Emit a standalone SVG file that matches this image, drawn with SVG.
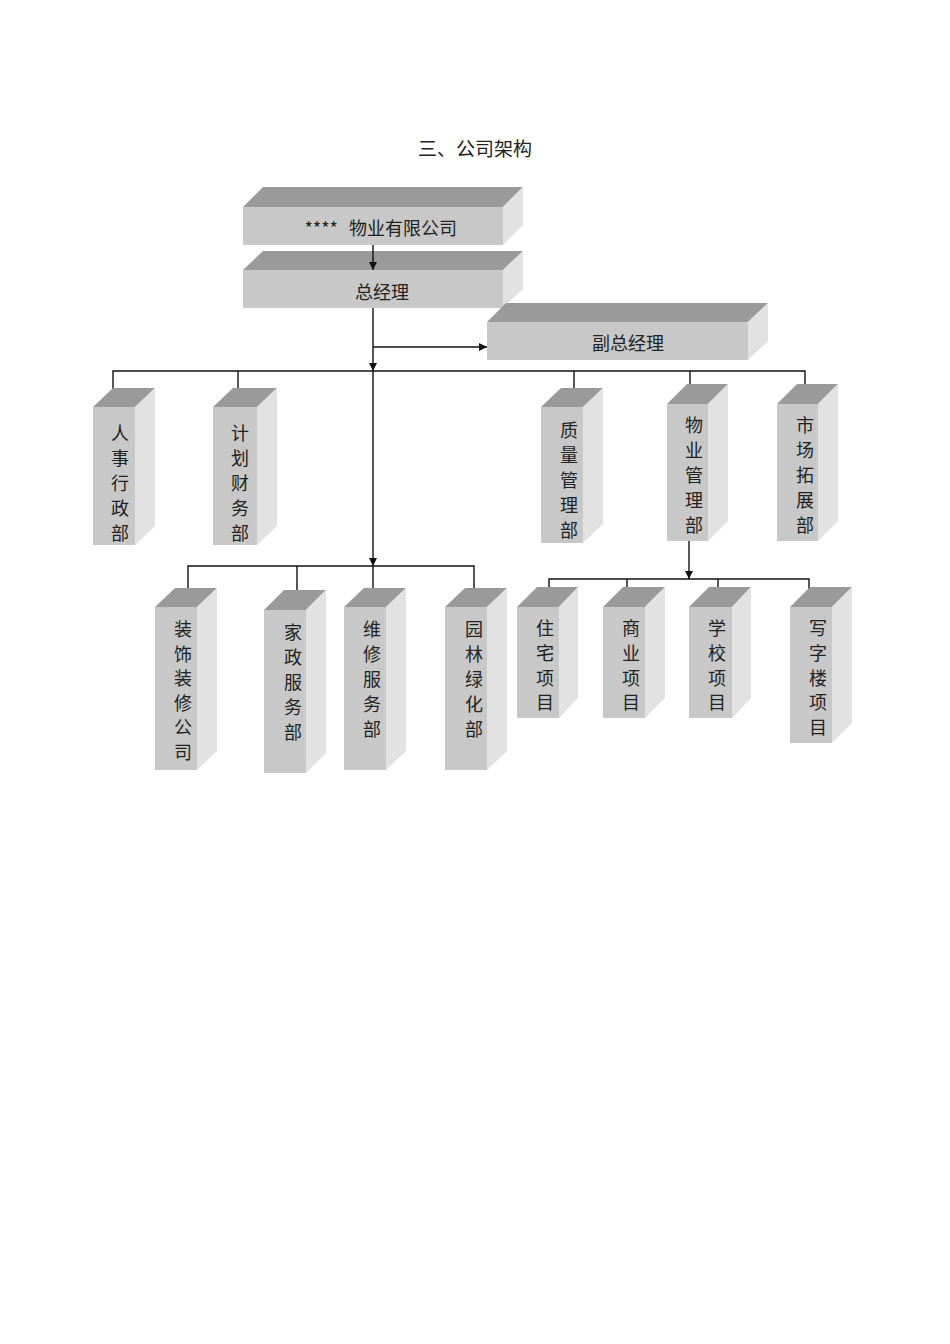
<svg xmlns="http://www.w3.org/2000/svg" width="950" height="1344" viewBox="0 0 950 1344">
<style>
.top{fill:#9a9a9a}
.front{fill:#c8c8c8}
.side{fill:#e2e2e2}
.t{font-family:"Noto Sans CJK SC","Noto Sans CJK JP",sans-serif;fill:#222;text-anchor:middle;dominant-baseline:central}
.h{font-size:18px}
.v{font-size:18px}
.ln{stroke:#111;stroke-width:1.4;fill:none}
</style>
<defs>
<marker id="arr" viewBox="0 0 10 10" refX="10" refY="5" markerWidth="8" markerHeight="8" markerUnits="userSpaceOnUse" orient="auto">
<path d="M0,0 L10,5 L0,10 z" fill="#111"/>
</marker>
</defs>
<rect width="950" height="1344" fill="#fff"/>
<text class="t" x="475" y="147" style="font-size:19px">三、公司架构</text>

<g id="company">
<polygon class="top" points="243,207 263,187 523,187 503,207"/>
<polygon class="side" points="503,207 523,187 523,225 503,245"/>
<rect class="front" x="243" y="207" width="260" height="38"/>
<text class="t h" x="338" y="227" style="text-anchor:end">****</text>
<text class="t h" x="349" y="227" style="text-anchor:start">物业有限公司</text>
</g>
<g id="gm">
<polygon class="top" points="243,270 263,251 523,251 503,270"/>
<polygon class="side" points="503,270 523,251 523,289 503,308"/>
<rect class="front" x="243" y="270" width="260" height="38"/>
<text class="t h" x="382" y="291">总经理</text>
</g>
<g id="vgm">
<polygon class="top" points="487,322 506,303 768,303 748,322"/>
<polygon class="side" points="748,322 768,303 768,341 748,360"/>
<rect class="front" x="487" y="322" width="261" height="38"/>
<text class="t h" x="628" y="342">副总经理</text>
</g>

<g id="connectors">
<line class="ln" x1="373" y1="245" x2="373" y2="270" marker-end="url(#arr)"/>
<line class="ln" x1="373" y1="308" x2="373" y2="371" marker-end="url(#arr)"/>
<line class="ln" x1="373" y1="347" x2="487" y2="347" marker-end="url(#arr)"/>
<line class="ln" x1="373" y1="371" x2="373" y2="566" marker-end="url(#arr)"/>
<polyline class="ln" points="113,407 113,371 805,371 805,404"/>
<line class="ln" x1="238" y1="371" x2="238" y2="407"/>
<line class="ln" x1="574" y1="371" x2="574" y2="407"/>
<line class="ln" x1="690" y1="371" x2="690" y2="404"/>
<line class="ln" x1="689" y1="540" x2="689" y2="579" marker-end="url(#arr)"/>
<polyline class="ln" points="188,607 188,566 474,566 474,607"/>
<line class="ln" x1="297" y1="566" x2="297" y2="610"/>
<line class="ln" x1="373" y1="566" x2="373" y2="607"/>
<polyline class="ln" points="549,607 549,579 809,579 809,607"/>
<line class="ln" x1="627" y1="579" x2="627" y2="607"/>
<line class="ln" x1="718" y1="579" x2="718" y2="607"/>
</g>

<g id="hr">
<polygon class="top" points="93,407 113,388 155,388 135,407"/>
<polygon class="side" points="135,407 155,388 155,526 135,545"/>
<rect class="front" x="93" y="407" width="42" height="138"/>
<text class="t v" x="120"><tspan x="120" y="432">人</tspan><tspan x="120" y="457">事</tspan><tspan x="120" y="482">行</tspan><tspan x="120" y="507">政</tspan><tspan x="120" y="532">部</tspan></text>
</g>
<g id="finance">
<polygon class="top" points="213,407 233,388 277,388 257,407"/>
<polygon class="side" points="257,407 277,388 277,526 257,545"/>
<rect class="front" x="213" y="407" width="44" height="138"/>
<text class="t v" x="240"><tspan x="240" y="432">计</tspan><tspan x="240" y="457">划</tspan><tspan x="240" y="482">财</tspan><tspan x="240" y="507">务</tspan><tspan x="240" y="532">部</tspan></text>
</g>
<g id="quality">
<polygon class="top" points="541,407 561,388 603,388 583,407"/>
<polygon class="side" points="583,407 603,388 603,524 583,543"/>
<rect class="front" x="541" y="407" width="42" height="136"/>
<text class="t v" x="569"><tspan x="569" y="429">质</tspan><tspan x="569" y="454">量</tspan><tspan x="569" y="479">管</tspan><tspan x="569" y="504">理</tspan><tspan x="569" y="529">部</tspan></text>
</g>
<g id="property">
<polygon class="top" points="667,404 687,384 728,384 708,404"/>
<polygon class="side" points="708,404 728,384 728,521 708,541"/>
<rect class="front" x="667" y="404" width="41" height="137"/>
<text class="t v" x="694"><tspan x="694" y="424">物</tspan><tspan x="694" y="449">业</tspan><tspan x="694" y="474">管</tspan><tspan x="694" y="499">理</tspan><tspan x="694" y="524">部</tspan></text>
</g>
<g id="market">
<polygon class="top" points="777,404 797,384 838,384 818,404"/>
<polygon class="side" points="818,404 838,384 838,521 818,541"/>
<rect class="front" x="777" y="404" width="41" height="137"/>
<text class="t v" x="805"><tspan x="805" y="424">市</tspan><tspan x="805" y="449">场</tspan><tspan x="805" y="474">拓</tspan><tspan x="805" y="499">展</tspan><tspan x="805" y="524">部</tspan></text>
</g>

<g id="decor">
<polygon class="top" points="155,607 175,588 217,588 197,607"/>
<polygon class="side" points="197,607 217,588 217,751 197,770"/>
<rect class="front" x="155" y="607" width="42" height="163"/>
<text class="t v" x="183"><tspan x="183" y="628">装</tspan><tspan x="183" y="652.6">饰</tspan><tspan x="183" y="677.2">装</tspan><tspan x="183" y="701.8">修</tspan><tspan x="183" y="726.4">公</tspan><tspan x="183" y="751">司</tspan></text>
</g>
<g id="housekeeping">
<polygon class="top" points="264,610 284,590 326,590 306,610"/>
<polygon class="side" points="306,610 326,590 326,753 306,773"/>
<rect class="front" x="264" y="610" width="42" height="163"/>
<text class="t v" x="293"><tspan x="293" y="631">家</tspan><tspan x="293" y="656">政</tspan><tspan x="293" y="681">服</tspan><tspan x="293" y="706">务</tspan><tspan x="293" y="731">部</tspan></text>
</g>
<g id="repair">
<polygon class="top" points="344,607 364,588 406,588 386,607"/>
<polygon class="side" points="386,607 406,588 406,751 386,770"/>
<rect class="front" x="344" y="607" width="42" height="163"/>
<text class="t v" x="372"><tspan x="372" y="628">维</tspan><tspan x="372" y="653">修</tspan><tspan x="372" y="678">服</tspan><tspan x="372" y="703">务</tspan><tspan x="372" y="728">部</tspan></text>
</g>
<g id="garden">
<polygon class="top" points="445,607 465,588 507,588 487,607"/>
<polygon class="side" points="487,607 507,588 507,751 487,770"/>
<rect class="front" x="445" y="607" width="42" height="163"/>
<text class="t v" x="474"><tspan x="474" y="628">园</tspan><tspan x="474" y="653">林</tspan><tspan x="474" y="678">绿</tspan><tspan x="474" y="703">化</tspan><tspan x="474" y="728">部</tspan></text>
</g>

<g id="residential">
<polygon class="top" points="517,607 537,587 578,587 559,607"/>
<polygon class="side" points="559,607 578,587 578,698 559,718"/>
<rect class="front" x="517" y="607" width="42" height="111"/>
<text class="t v" x="545"><tspan x="545" y="627">住</tspan><tspan x="545" y="652">宅</tspan><tspan x="545" y="677">项</tspan><tspan x="545" y="701">目</tspan></text>
</g>
<g id="commercial">
<polygon class="top" points="603,607 623,587 665,587 645,607"/>
<polygon class="side" points="645,607 665,587 665,698 645,718"/>
<rect class="front" x="603" y="607" width="42" height="111"/>
<text class="t v" x="631"><tspan x="631" y="627">商</tspan><tspan x="631" y="652">业</tspan><tspan x="631" y="677">项</tspan><tspan x="631" y="701">目</tspan></text>
</g>
<g id="school">
<polygon class="top" points="689,607 709,587 751,587 732,607"/>
<polygon class="side" points="732,607 751,587 751,698 732,718"/>
<rect class="front" x="689" y="607" width="43" height="111"/>
<text class="t v" x="717"><tspan x="717" y="627">学</tspan><tspan x="717" y="652">校</tspan><tspan x="717" y="677">项</tspan><tspan x="717" y="701">目</tspan></text>
</g>
<g id="office">
<polygon class="top" points="790,607 810,587 852,587 832,607"/>
<polygon class="side" points="832,607 852,587 852,723 832,743"/>
<rect class="front" x="790" y="607" width="42" height="136"/>
<text class="t v" x="818"><tspan x="818" y="627">写</tspan><tspan x="818" y="652">字</tspan><tspan x="818" y="677">楼</tspan><tspan x="818" y="701">项</tspan><tspan x="818" y="726">目</tspan></text>
</g>
</svg>
